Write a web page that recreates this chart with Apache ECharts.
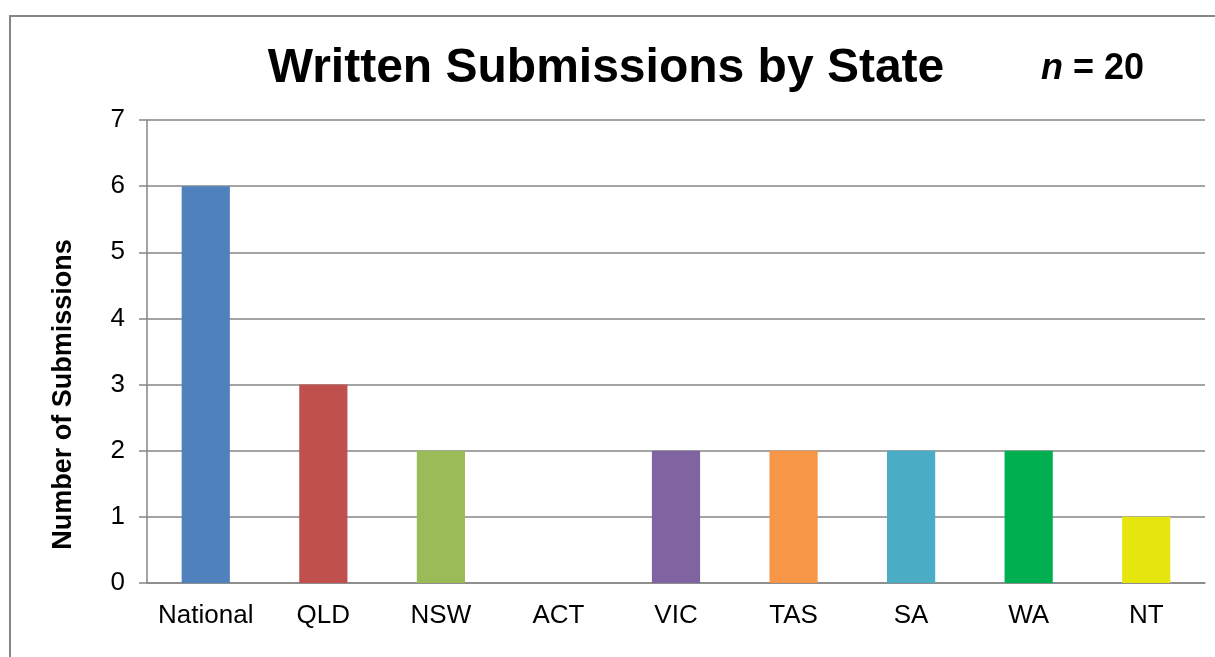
<!DOCTYPE html>
<html>
<head>
<meta charset="utf-8">
<script src="https://cdn.jsdelivr.net/npm/echarts@6/dist/echarts.min.js"></script>
<style>
  html, body { margin: 0; padding: 0; background: #fff; }
  #main { width: 1215px; height: 657px; }
</style>
</head>
<body>
<div id="main"></div>
<script>
// data
var states = ['National', 'QLD', 'NSW', 'ACT', 'VIC', 'TAS', 'SA', 'WA', 'NT'];
var counts = [6, 3, 2, 0, 2, 2, 2, 2, 1];
var barColors = ['#4F81BD', '#C0504D', '#9BBB59', '#2C4D75', '#8064A2', '#F79646', '#4BACC6', '#00B050', '#E6E60E'];
var yTicks = [0, 1, 2, 3, 4, 5, 6, 7];

var font = '"Liberation Sans", Arial, sans-serif';
var gray = '#868686';

var myChart = echarts.init(document.getElementById('main'));

var barData = counts.map(function (v, i) {
    return { value: v, itemStyle: { color: barColors[i] } };
});

var option = {
    animation: false,
    backgroundColor: '#fff',
    textStyle: { fontFamily: font },
    title: [{
        text: 'Written Submissions by State',
        left: 601,
        textAlign: 'center',
        top: 40,
        textStyle: { fontSize: 48, fontWeight: 'bold', color: '#000', fontFamily: font }
    }, {
        text: '{i|n} = 20',
        left: 1036,
        top: 46,
        textStyle: {
            fontSize: 36, fontWeight: 'bold', color: '#000', fontFamily: font,
            rich: {
                i: { fontSize: 36, fontWeight: 'bold', fontStyle: 'italic', color: '#000', fontFamily: font }
            }
        }
    }],
    graphic: [{
        type: 'rect',
        shape: { x: 10, y: 16, width: 1220, height: 700 },
        style: { fill: 'none', stroke: gray, lineWidth: 2 },
        silent: true,
        z: -1
    }],
    grid: { left: 147, right: 10, top: 120, bottom: 74 },
    xAxis: {
        type: 'category',
        data: states,
        axisLine: { lineStyle: { color: gray, width: 1.5 } },
        axisTick: { show: false },
        axisLabel: { color: '#000', fontSize: 26, margin: 20, interval: 0, fontFamily: font }
    },
    yAxis: {
        type: 'value',
        min: yTicks[0],
        max: yTicks[yTicks.length - 1],
        interval: 1,
        name: 'Number of Submissions',
        nameLocation: 'middle',
        nameGap: 70,
        nameTextStyle: { fontSize: 27, fontWeight: 'bold', color: '#000', fontFamily: font, padding: [0, 86, 0, 0] },
        axisLine: { show: true, lineStyle: { color: gray, width: 1.5 } },
        axisTick: { show: true, length: 8, lineStyle: { color: gray, width: 1.5 } },
        axisLabel: { color: '#000', fontSize: 26, margin: 22, fontFamily: font },
        splitLine: { lineStyle: { color: gray, width: 1.5 } }
    },
    series: [{
        type: 'bar',
        data: barData,
        barWidth: '41%'
    }]
};
myChart.setOption(option);
</script>
</body>
</html>
